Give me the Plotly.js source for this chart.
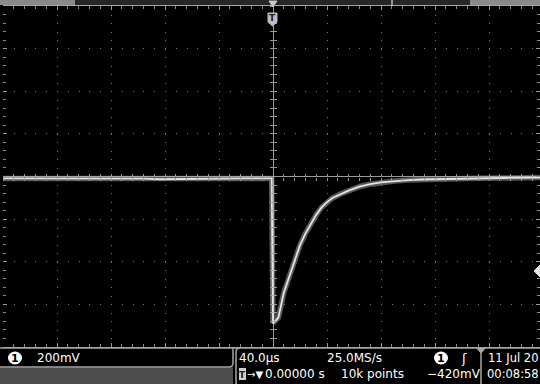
<!DOCTYPE html>
<html>
<head>
<meta charset="utf-8">
<script src="https://cdn.plot.ly/plotly-3.0.1.min.js"></script>
<style>
html,body{margin:0;padding:0;background:#000;}
#chart{width:540px;height:384px;}
</style>
</head>
<body>
<div id="chart"></div>
<script>
// ---- Data ----
// Channel 1, time in microseconds relative to trigger, voltage in mV
const time_us = [-200, -170, -140, -110, -95, -84, -70, -60, -40, -20, -1,
                 0, 2, 4, 8, 12, 16, 20, 24, 28, 32, 36, 40, 44, 50, 56, 64, 72, 80, 90, 100, 110, 130, 150, 170, 198];
const ch1_mV  = [-9, -9, -9, -9, -10, -13, -12, -9, -9, -9, -9,
                 -688, -676, -662, -545, -468, -392, -322, -268, -222, -180, -145, -120, -101, -82, -66, -48, -36, -28, -21, -17, -14, -11, -8, -7, -5];

// Readout texts
const chLabel = "1";
const voltsPerDiv = "200mV";
const timePerDiv = "40.0\u00b5s";
const sampleRate = "25.0MS/s";
const trigPos = "0.00000 s";
const recordLen = "10k points";
const trigLevel = "\u2212420mV";
const dateText = "11 Jul 20";
const timeText = "00:08:58";

// ---- Geometry helpers (pixel -> paper) ----
const L = 3, T = 6, W = 537, H = 341;
const px = x => (x - L) / W;
const py = y => (T + H - y) / H;

const FONT = "DejaVu Sans";
const gridCol = "#7a7a7a";
const lineCol = "#a6a6a6";

function rect(x0, y0, x1, y1, fill, lc, lw) {
  return {type: "rect", xref: "paper", yref: "paper", x0: px(x0), x1: px(x1), y0: py(y0), y1: py(y1),
          fillcolor: fill, line: {color: lc || fill, width: lw || 0}, layer: "above"};
}
function line(x0, y0, x1, y1, col, w) {
  return {type: "line", xref: "paper", yref: "paper", x0: px(x0), x1: px(x1), y0: py(y0), y1: py(y1),
          line: {color: col, width: w || 1}, layer: "above"};
}
function path(pts, fill, col, w, close) {
  let d = "";
  pts.forEach((p, i) => {
    if (p[0] === "Q") d += " Q" + px(p[1]) + "," + py(p[2]) + " " + px(p[3]) + "," + py(p[4]);
    else d += (i === 0 ? "M" : " L") + px(p[0]) + "," + py(p[1]);
  });
  if (close) d += " Z";
  return {type: "path", xref: "paper", yref: "paper", path: d, fillcolor: fill || "rgba(0,0,0,0)",
          line: {color: col || "rgba(0,0,0,0)", width: w || 0}, layer: "above"};
}
function ellipse(x0, y0, x1, y1, fill) {
  return {type: "circle", xref: "paper", yref: "paper", x0: px(x0), x1: px(x1), y0: py(y0), y1: py(y1),
          fillcolor: fill, line: {width: 0}, layer: "above"};
}
function txt(x, y, s, opts) {
  opts = opts || {};
  return {xref: "paper", yref: "paper", x: px(x), y: py(y), text: s, showarrow: false,
          xanchor: opts.xanchor || "left", yanchor: "middle", borderpad: 0,
          font: {family: FONT, size: opts.size || 12, color: opts.color || "#ffffff", weight: opts.weight || "normal"}};
}

const shapes = [
  // top status band
  rect(0, 0, 75, 5, "#8a8a8a"),
  rect(75, 0, 470, 5, "#262626"),
  rect(470, 0, 540, 5, "#8a8a8a"),
  line(392, 0, 392, 6, "#bbbbbb", 1.5),
  // trigger position arrow on top band
  path([[269, 1], [277, 1], [273, 7]], "#c8c8c8", "#c8c8c8", 1, true),
  // trigger "T" marker
  path([[268, 13], [277, 13], [277, 22], [272.5, 26], [268, 22]], "#bdbdbd", "#bdbdbd", 1, true),
  // trigger level marker at right edge
  path([[540, 265], [534, 271], [540, 277]], "#e6e6e6", "#e6e6e6", 1, true),
  // bottom readout area
  rect(0, 348, 540, 384, "#000000"),
  rect(0, 367.5, 233, 384, "#4e4e4e"),
  line(0, 348, 540, 348, lineCol, 1.5),
  path([[0, 367], [229, 367], ["Q", 233, 367, 233, 363], [233, 348]], null, lineCol, 1.5, false),
  path([[236, 384], [236, 352], ["Q", 236, 348, 240, 348]], null, lineCol, 1.5, false),
  line(481, 349, 481, 384, lineCol, 1.5),
  path([[477, 348.5], [485, 348.5], [481, 353]], lineCol, lineCol, 1, true),
  // channel badges
  ellipse(8, 351.5, 22, 364.5, "#ffffff"),
  ellipse(434, 351.5, 448, 364.5, "#ffffff"),
  // trigger position icon
  rect(239, 368, 246, 380, "#d0d0d0")
];

const annotations = [
  txt(15, 358.5, chLabel, {xanchor: "center", color: "#000000", size: 11, weight: "bold"}),
  txt(36, 358, voltsPerDiv),
  txt(238, 358, timePerDiv),
  txt(326, 358, sampleRate),
  txt(441, 358.5, chLabel, {xanchor: "center", color: "#000000", size: 11, weight: "bold"}),
  txt(460, 358, "\u0283", {size: 13}),
  txt(487, 358, dateText, {size: 11.5}),
  txt(242.5, 374.5, "T", {xanchor: "center", color: "#222222", size: 9, weight: "bold"}),
  txt(246, 374, "\u2192\u25bc", {size: 10}),
  txt(264, 374, trigPos),
  txt(340, 374, recordLen),
  txt(426, 374, trigLevel),
  txt(486, 374, timeText, {size: 11.5}),
  txt(272.5, 18.5, "T", {xanchor: "center", color: "#222222", size: 9, weight: "bold"})
];

const xr = [-200, (540 - 273) / 54 * 40];
const yr = [-800, 800];
const x0pos = (0 - xr[0]) / (xr[1] - xr[0]);

const traces = [
  {x: time_us, y: ch1_mV, type: "scatter", mode: "lines", hoverinfo: "skip",
   line: {color: "rgba(175,175,175,0.5)", width: 5.5}},
  {x: time_us, y: ch1_mV, type: "scatter", mode: "lines", hoverinfo: "skip",
   line: {color: "#e4e4e4", width: 1.8}},
  // empty traces so the crosshair tick axes get drawn
  {x: [], y: [], type: "scatter", mode: "lines", xaxis: "x2", yaxis: "y2", hoverinfo: "skip"},
  {x: [], y: [], type: "scatter", mode: "lines", xaxis: "x3", yaxis: "y3", hoverinfo: "skip"}
];

const crossX = (side) => ({
  overlaying: "x", anchor: "free", position: 0.5, range: xr, showgrid: false, zeroline: false,
  showticklabels: false, showline: false,
  ticks: side, ticklen: 3, tickcolor: "#9a9a9a", tickwidth: 1, dtick: 8, tick0: 0
});
const crossY = (side) => ({
  overlaying: "y", anchor: "free", position: x0pos, range: yr, showgrid: false, zeroline: false,
  showticklabels: false, showline: false,
  ticks: side, ticklen: 3, tickcolor: "#9a9a9a", tickwidth: 1, dtick: 40, tick0: 0
});

const layout = {
  width: 540, height: 384,
  margin: {l: L, r: 0, t: T, b: 384 - T - H, pad: 0},
  paper_bgcolor: "#000000", plot_bgcolor: "#000000",
  showlegend: false,
  xaxis: {range: xr, showticklabels: false,
          zeroline: true, zerolinecolor: "#9a9a9a", zerolinewidth: 1,
          showgrid: true, gridcolor: gridCol, gridwidth: 1, griddash: "1px,7.52px",
          dtick: 40, tick0: 0, ticks: "inside", ticklen: 4, tickcolor: "#9a9a9a",
          minor: {dtick: 8, tick0: 0, ticks: "inside", ticklen: 3, tickcolor: "#8a8a8a", showgrid: false},
          showline: true, mirror: "ticks", linecolor: lineCol, linewidth: 1.5},
  yaxis: {range: yr, showticklabels: false,
          zeroline: true, zerolinecolor: "#9a9a9a", zerolinewidth: 1,
          showgrid: true, gridcolor: gridCol, gridwidth: 1, griddash: "1px,9.8px",
          dtick: 200, tick0: 0, ticks: "inside", ticklen: 4, tickcolor: "#9a9a9a",
          minor: {dtick: 40, tick0: 0, ticks: "inside", ticklen: 3, tickcolor: "#8a8a8a", showgrid: false},
          showline: false, mirror: "ticks"},
  xaxis2: crossX("inside"),
  xaxis3: crossX("outside"),
  yaxis2: crossY("inside"),
  yaxis3: crossY("outside"),
  shapes: shapes,
  annotations: annotations
};

Plotly.newPlot("chart", traces, layout, {displayModeBar: false, staticPlot: true});
</script>
</body>
</html>
